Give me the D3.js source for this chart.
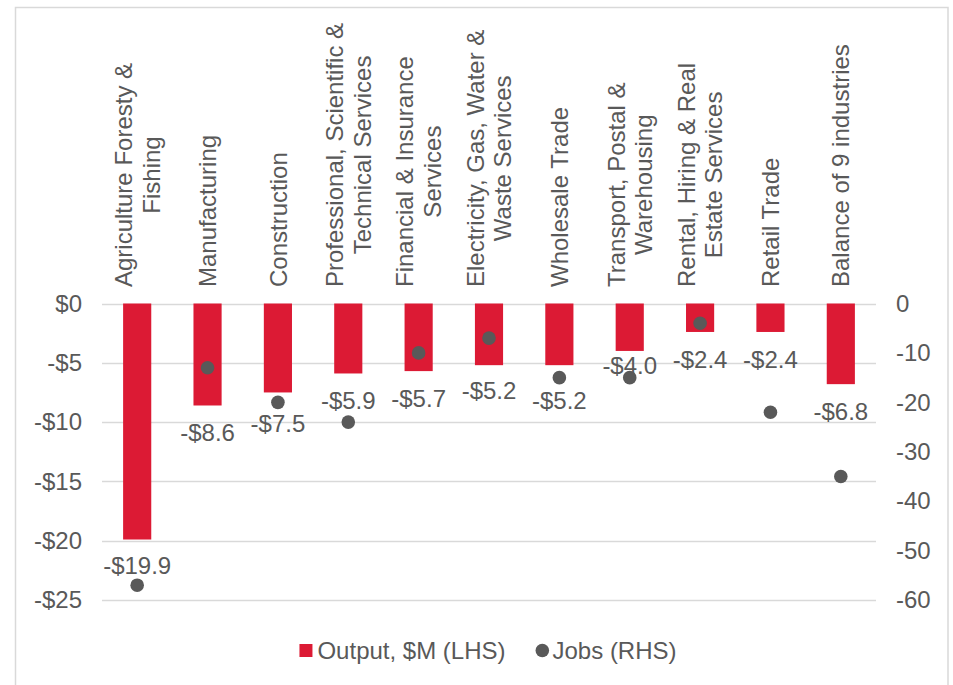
<!DOCTYPE html>
<html>
<head>
<meta charset="utf-8">
<script src="https://cdn.jsdelivr.net/npm/d3@7"></script>
<style>
  html, body { margin: 0; padding: 0; background: #fff; overflow: hidden; }
  svg { display: block; }
  text { font-family: "Liberation Sans", Arial, sans-serif; fill: #595959; }
</style>
</head>
<body>
<svg id="chart" width="953" height="685"></svg>
<script>
// ---- data ----
const categories = [
  ["Agriculture Foresty &", "Fishing"],
  ["Manufacturing"],
  ["Construction"],
  ["Professional, Scientific &", "Technical Services"],
  ["Financial & Insurance", "Services"],
  ["Electricity, Gas, Water &", "Waste Services"],
  ["Wholesale Trade"],
  ["Transport, Postal &", "Warehousing"],
  ["Rental, Hiring & Real", "Estate Services"],
  ["Retail Trade"],
  ["Balance of 9 industries"]
];
const outputValues = [-19.9, -8.6, -7.5, -5.9, -5.7, -5.2, -5.2, -4.0, -2.4, -2.4, -6.8];
const jobsValues = [-57, -13, -20, -24, -10, -7, -15, -15, -4, -22, -35];
const leftTicks = [0, -5, -10, -15, -20, -25];
const rightTicks = [0, -10, -20, -30, -40, -50, -60];
const seriesNames = ["Output, $M (LHS)", "Jobs (RHS)"];
// small manual nudges of data labels (px), as in the original
const labelNudge = [-1, 0, 4, 0, 0, -2, 8, -13, 0, 0, 0];

// ---- style ----
const FS = 24;
const barColor = "#dc1a34";
const dotColor = "#595959";
const gridColor = "#d9d9d9";

const svg = d3.select("#chart");
const plot = { left: 102, right: 876, top: 303.5, bottom: 600 };

// border (bottom edge falls just outside the picture, as in the original)
svg.append("rect")
  .attr("x", 15.5).attr("y", 7.5)
  .attr("width", 932.5).attr("height", 690)
  .attr("fill", "none").attr("stroke", gridColor).attr("stroke-width", 1.5);

const idx = d3.range(categories.length);
const x = d3.scaleBand().domain(idx).range([plot.left, plot.right]).paddingInner(0.6).paddingOuter(0.3);
const yL = d3.scaleLinear().domain([-25, 0]).range([plot.bottom, plot.top]);
const yR = d3.scaleLinear().domain([-60, 0]).range([plot.bottom, plot.top]);

// gridlines
svg.append("g").selectAll("line").data(leftTicks).join("line")
  .attr("x1", plot.left).attr("x2", plot.right)
  .attr("y1", d => Math.round(yL(d)) + 0.5).attr("y2", d => Math.round(yL(d)) + 0.5)
  .attr("stroke", gridColor).attr("stroke-width", 1.5);

// left axis
const axL = svg.append("g").attr("transform", `translate(${plot.left},0)`)
  .call(d3.axisLeft(yL).tickValues(leftTicks).tickSize(0).tickPadding(20)
    .tickFormat(d => (d < 0 ? "-$" : "$") + Math.abs(d)));
axL.select(".domain").remove();
axL.selectAll("text").attr("font-size", FS).attr("fill", "#595959")
  .attr("font-family", '"Liberation Sans", Arial, sans-serif');

// right axis
const axR = svg.append("g").attr("transform", `translate(${plot.right},0)`)
  .call(d3.axisRight(yR).tickValues(rightTicks).tickSize(0).tickPadding(20)
    .tickFormat(d => d === 0 ? "0" : "-" + Math.abs(d)));
axR.select(".domain").remove();
axR.selectAll("text").attr("font-size", FS).attr("fill", "#595959")
  .attr("font-family", '"Liberation Sans", Arial, sans-serif');

// bars
svg.append("g").selectAll("rect").data(outputValues).join("rect")
  .attr("x", (d, i) => x(i))
  .attr("width", x.bandwidth())
  .attr("y", d => yL(0))
  .attr("height", d => yL(d) - yL(0))
  .attr("fill", barColor);

// data labels
svg.append("g").selectAll("text").data(outputValues).join("text")
  .attr("x", (d, i) => x(i) + x.bandwidth() / 2)
  .attr("y", (d, i) => yL(d) + 27 + labelNudge[i] + FS * 0.358)
  .attr("text-anchor", "middle")
  .attr("font-size", FS)
  .text(d => "-$" + Math.abs(d).toFixed(1));

// dots
svg.append("g").selectAll("circle").data(jobsValues).join("circle")
  .attr("cx", (d, i) => x(i) + x.bandwidth() / 2)
  .attr("cy", d => yR(d))
  .attr("r", 6.8)
  .attr("fill", dotColor);

// category labels (rotated, multi-line, centered)
const lh = FS * 1.15;
const catG = svg.append("g");
categories.forEach((lines, i) => {
  const cx = x(i) + x.bandwidth() / 2;
  const g = catG.append("g").attr("transform", `translate(${cx},${plot.top - 16.5}) rotate(-90)`);
  const texts = lines.map((ln, j) => g.append("text")
    .attr("font-size", FS)
    .attr("text-anchor", "middle")
    .attr("y", (j - (lines.length - 1) / 2) * lh + FS * 0.358)
    .text(ln));
  const maxLen = d3.max(texts, t => t.node().getComputedTextLength());
  texts.forEach(t => t.attr("x", maxLen / 2));
});

// legend
const leg = svg.append("g");
const legY = 650.5;
const item1 = leg.append("g");
item1.append("rect").attr("x", 0).attr("y", -6.5).attr("width", 13).attr("height", 13).attr("fill", barColor);
const t1 = item1.append("text").attr("x", 18).attr("y", FS * 0.358).attr("font-size", FS).text(seriesNames[0]);
const w1 = 18 + t1.node().getComputedTextLength();
const item2 = leg.append("g").attr("transform", `translate(${w1 + 30},0)`);
item2.append("circle").attr("cx", 6.8).attr("cy", 0).attr("r", 6.8).attr("fill", dotColor);
const t2 = item2.append("text").attr("x", 17).attr("y", FS * 0.358).attr("font-size", FS).text(seriesNames[1]);
const wTot = w1 + 30 + 17 + t2.node().getComputedTextLength();
leg.attr("transform", `translate(${(plot.left + plot.right) / 2 - wTot / 2 - 1},${legY})`);
</script>
</body>
</html>
